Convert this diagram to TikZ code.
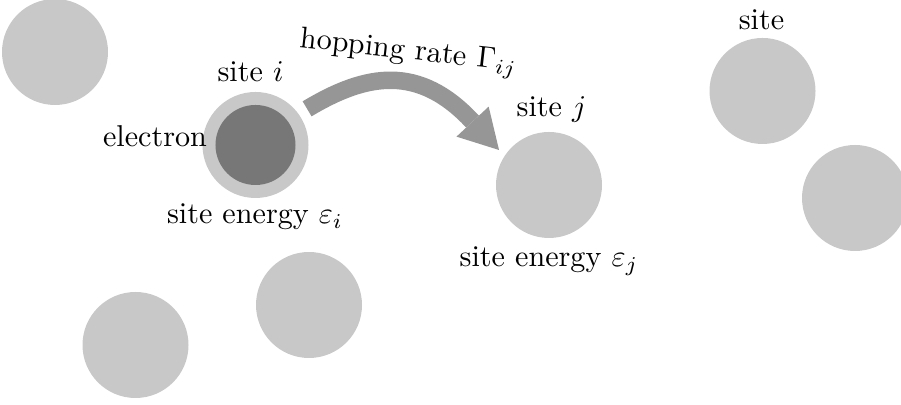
\documentclass[tikz,border=0pt]{standalone}
\usetikzlibrary{arrows.meta,calc}
\definecolor{sitegray}{HTML}{C8C8C8}
\definecolor{elecgray}{HTML}{777777}
\definecolor{arrowgray}{HTML}{969696}
\begin{document}
\begin{tikzpicture}[x=0.3317pt,y=-0.3317pt,
  site/.style={circle,fill=sitegray,draw=none,inner sep=0pt,minimum size=35.16pt},
  electronball/.style={circle,fill=elecgray,draw=none,inner sep=0pt,minimum size=26.54pt},
  lbl/.style={inner sep=0pt,anchor=base},
  hop/.style={draw=arrowgray,line width=5.8pt,line cap=butt,
    -{Triangle[length=12.87pt,width=14.6pt,line width=0pt]}}]
\useasboundingbox (0,0) rectangle (901,405);
% sites
\node[site] (s0) at (55,52) {};
\node[site] (si) at (255.5,145) {};
\node[electronball] (el) at (si) {};
\node[site] (sj) at (549,185) {};
\node[site] (s3) at (762.5,91) {};
\node[site] (s4) at (855,198) {};
\node[site] (s5) at (135.5,345) {};
\node[site] (s6) at (309,305) {};
% labels
\node[lbl] (lsi) at (250.5,82) {site $i$};
\node[lbl] (lel) at (155,147) {electron};
\node[lbl] (lei) at (255,224) {site energy $\varepsilon_i$};
\node[lbl] (lsj) at (551.5,117) {site $j$};
\node[lbl] (lej) at (549,267) {site energy $\varepsilon_j$};
\node[lbl] (ls3) at (761.5,29.5) {site};
\node[inner sep=0pt,anchor=base west,rotate=-6.4] (lhop) at (299,47) {hopping rate $\Gamma_{ij}$};
% hopping arrow
\coordinate (hs) at ($(si)+(-35:63)$);
\coordinate (ht) at ($(sj)+(-145:61)$);
\coordinate (hc1) at ($(hs)+(-31:70)$);
\coordinate (hc2) at ($(ht)+(227:117)$);
\draw[hop] (hs) .. controls (hc1) and (hc2) .. (ht);
\end{tikzpicture}
\end{document}
